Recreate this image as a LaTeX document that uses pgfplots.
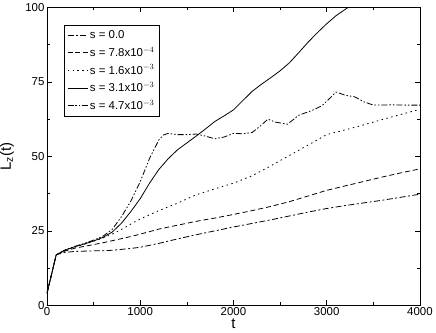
\documentclass[border=0pt]{standalone}
\usepackage{pgfplots}
\pgfplotsset{compat=1.18}
\usepackage{fontspec}
\setmainfont{Liberation Sans}

\begin{document}
\begin{tikzpicture}
\begin{axis}[
    scale only axis,
    width=373bp, height=298bp,
    xmin=0, xmax=4000, ymin=0, ymax=100,
    xtick={0,1000,2000,3000,4000},
    ytick={0,25,50,75,100},
    minor x tick num=1, minor y tick num=1,
    tick align=inside,
    major tick length=5bp, minor tick length=3bp,
    tick style={black, line width=0.6pt},
    axis line style={line width=0.8pt},
    /pgf/number format/assume math mode=true,
    /pgf/number format/set thousands separator={},
    tick label style={font=\fontsize{11.5}{13}\selectfont},
    label style={font=\fontsize{15}{17}\selectfont},
    xticklabel style={yshift=1bp},
    yticklabel style={xshift=1bp},
    xlabel={t},
    ylabel={L$_\mathrm{z}$(t)},
    xlabel style={at={(axis description cs:0.5,-0.036)}, anchor=north, inner xsep=1pt, inner ysep=3pt},
    ylabel style={at={(axis description cs:-0.088,0.5)}, anchor=south, inner sep=0pt},
    legend cell align=left,
    legend style={at={(0.045,0.94)}, anchor=north west, draw=black, line width=0.8pt,
        font=\fontsize{11.5}{13}\selectfont, row sep=2.8bp, inner sep=3bp},
    legend image code/.code={\draw[#1] (0bp,0bp) -- (20bp,0bp);},
    every axis plot/.append style={black, line width=0.8pt},
]

% s = 0.0
\addplot[dash pattern=on 6pt off 2.5pt on 2pt off 2.5pt] coordinates {
    (0,4)(100,17)(200,17.8)(300,18.1)(400,18.2)(500,18.3)(600,18.3)(700,18.5)
    (800,18.8)(900,19.1)(1000,19.5)(1200,20.8)(1400,22.3)(1600,23.7)(1800,25)
    (2000,26.3)(2200,27.5)(2400,28.7)(2600,30)(2800,31.3)(3000,32.5)(3200,33.5)
    (3400,34.4)(3600,35.3)(3800,36.3)(4000,37.3)
};

% s = 7.8e-4
\addplot[dash pattern=on 5pt off 3pt] coordinates {
    (0,4)(100,17)(200,18.3)(300,19.2)(400,19.8)(500,20.4)(600,21)(700,21.7)
    (800,22.4)(900,23.1)(1000,23.9)(1200,25.6)(1400,26.9)(1600,28.2)(1800,29.3)
    (2000,30.5)(2200,31.8)(2400,33.2)(2600,34.8)(2800,36.7)(3000,38.6)(3200,40.1)
    (3400,41.6)(3600,43.1)(3800,44.5)(4000,45.8)
};

% s = 1.6e-3
\addplot[dash pattern=on 1.5pt off 3.5pt] coordinates {
    (0,4)(100,17)(200,18.5)(300,19.5)(400,20.5)(500,21.5)(600,22.6)(700,23.9)
    (800,25.5)(900,27.3)(1000,29)(1200,31.8)(1400,34.3)(1600,37.1)(1800,39.1)
    (2000,41)(2200,43.5)(2400,46.8)(2600,50.3)(2800,53.8)(3000,57.3)(3200,58.9)
    (3400,60.6)(3600,62.4)(3800,64.1)(4000,65.8)
};

% s = 3.1e-3
\addplot[solid] coordinates {
    (0,4)(100,17)(200,18.6)(300,19.7)(400,20.6)(500,21.6)(600,22.8)(700,24.6)
    (800,27.6)(900,31.5)(1000,35.8)(1100,41)(1200,45.6)(1300,49.2)(1400,52.2)
    (1500,54.5)(1600,56.8)(1700,59.2)(1800,61.7)(1900,63.6)(2000,65.6)(2100,68.7)
    (2200,71.8)(2300,74.2)(2400,76.4)(2500,78.7)(2600,81.4)(2700,84.8)(2800,88.3)
    (2900,91.5)(3000,94.5)(3100,97.2)(3230,100)
};

% s = 4.7e-3
\addplot[dash pattern=on 6pt off 2pt on 1.5pt off 2pt on 1.5pt off 2pt] coordinates {
    (0,4)(100,17)(200,18.7)(300,19.8)(400,20.8)(500,21.9)(600,23.2)(700,25.5)
    (800,29.8)(900,35)(1000,41.5)(1100,49.3)(1200,55.5)(1250,57.2)(1300,57.7)
    (1400,57.3)(1500,57.3)(1600,57.5)(1700,56.8)(1800,55.9)(1900,56.5)(2000,57.7)
    (2100,57.6)(2200,58)(2300,60.5)(2370,62.5)(2450,61.5)(2580,60.8)(2700,63.8)
    (2850,65.5)(2950,67)(3050,70)(3100,71.6)(3200,70.5)(3300,70)(3400,68.3)
    (3500,67.2)(3700,67.3)(3850,67.2)(4000,67.2)
};

\legend{s = 0.0, s = 7.8x10$^{-4}$, s = 1.6x10$^{-3}$, s = 3.1x10$^{-3}$, s = 4.7x10$^{-3}$}
\end{axis}
\end{tikzpicture}
\end{document}
